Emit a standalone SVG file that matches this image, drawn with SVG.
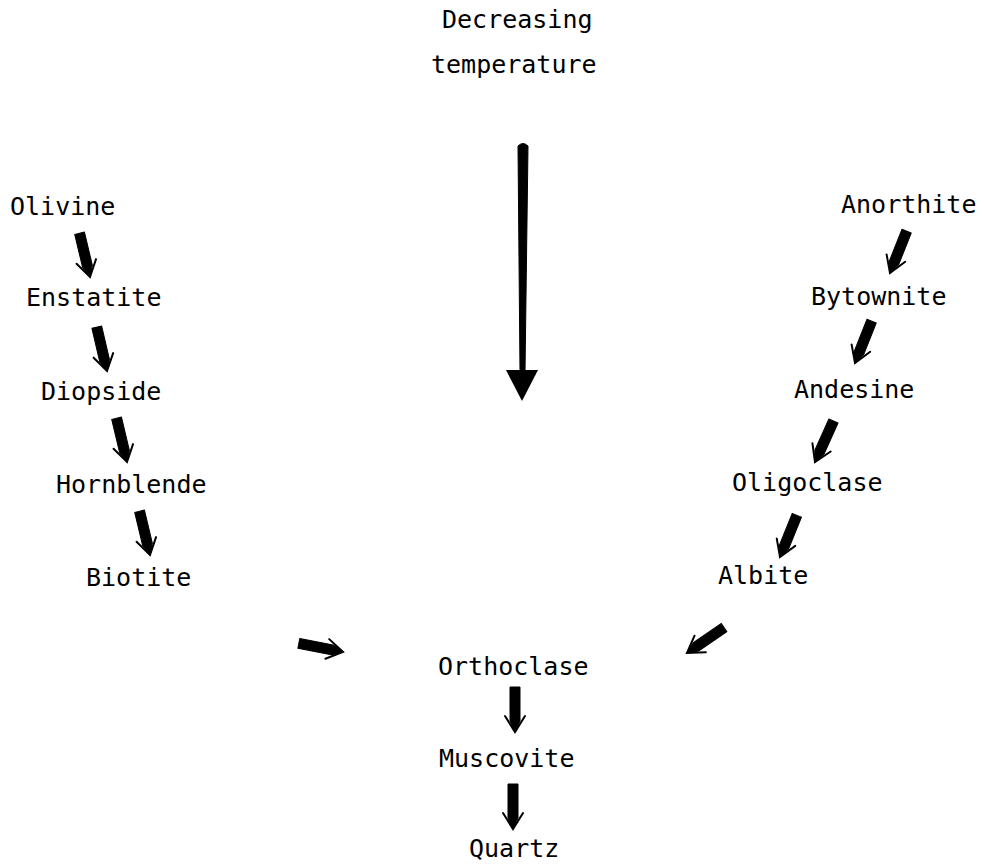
<svg xmlns="http://www.w3.org/2000/svg" xmlns:xlink="http://www.w3.org/1999/xlink" width="984" height="865" viewBox="0 0 984 865">
<style>
  .t { font-family: "DejaVu Sans Mono", "Liberation Mono", monospace; font-size: 25px; fill: #000; }
  .shaft { fill: #000; stroke: #000; stroke-width: 1; stroke-linejoin: round; }
  .head { fill: none; stroke: #000; stroke-width: 2; stroke-linecap: round; stroke-linejoin: miter; }
</style>
<defs>
  <g id="arr">
    <path class="shaft" d="M-45,-5 L-11,-5 L0,0 L-11,5 L-45,5 Z"/>
    <path class="head" d="M-16,-10 L0,0 L-16,10"/>
  </g>
</defs>
<rect width="984" height="865" fill="#fff"/>

<g id="title">
  <text class="t" x="442" y="28">Decreasing</text>
  <text class="t" x="431" y="73">temperature</text>
</g>

<g id="olivine"><text class="t" x="10" y="215">Olivine</text></g>
<g id="enstatite"><text class="t" x="26" y="306">Enstatite</text></g>
<g id="diopside"><text class="t" x="41" y="400">Diopside</text></g>
<g id="hornblende"><text class="t" x="56" y="493">Hornblende</text></g>
<g id="biotite"><text class="t" x="86" y="586">Biotite</text></g>

<g id="anorthite"><text class="t" x="841" y="213">Anorthite</text></g>
<g id="bytownite"><text class="t" x="811" y="305">Bytownite</text></g>
<g id="andesine"><text class="t" x="794" y="398">Andesine</text></g>
<g id="oligoclase"><text class="t" x="732" y="491">Oligoclase</text></g>
<g id="albite"><text class="t" x="718" y="584">Albite</text></g>

<g id="orthoclase"><text class="t" x="438" y="675">Orthoclase</text></g>
<g id="muscovite"><text class="t" x="439" y="767">Muscovite</text></g>
<g id="quartz"><text class="t" x="469" y="857">Quartz</text></g>

<g id="connectors">
  <!-- big temperature arrow -->
  <path class="shaft" d="M518,146 Q523,141 528,146 L525,372 L520,372 Z"/>
  <path d="M506,370 L538,370 L522,401 Z" fill="#000"/>

  <use xlink:href="#arr" transform="translate(90,277) rotate(76.6)"/>
  <use xlink:href="#arr" transform="translate(107,371) rotate(76.9)"/>
  <use xlink:href="#arr" transform="translate(127,462) rotate(76.6)"/>
  <use xlink:href="#arr" transform="translate(150,555) rotate(76.6)"/>

  <use xlink:href="#arr" transform="translate(890,273) rotate(111.6)"/>
  <use xlink:href="#arr" transform="translate(855,363) rotate(111.6)"/>
  <use xlink:href="#arr" transform="translate(815,462) rotate(114.2)"/>
  <use xlink:href="#arr" transform="translate(780,557) rotate(112)"/>

  <use xlink:href="#arr" transform="translate(343,652) rotate(11)"/>
  <use xlink:href="#arr" transform="translate(687,653) rotate(145.6)"/>

  <use xlink:href="#arr" transform="translate(515,732) rotate(90)"/>
  <use xlink:href="#arr" transform="translate(513,829) rotate(90)"/>
</g>
</svg>
